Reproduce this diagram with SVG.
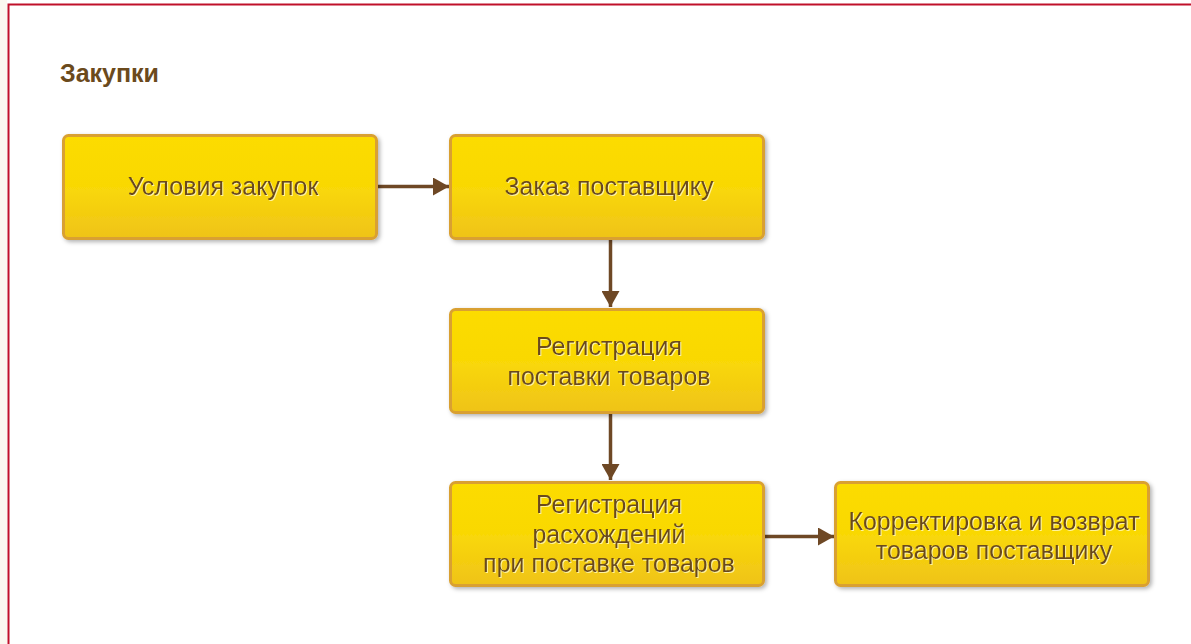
<svg xmlns="http://www.w3.org/2000/svg" width="1191" height="644" viewBox="0 0 1191 644">
<defs>
<linearGradient id="g" x1="0" y1="0" x2="0" y2="1">
<stop offset="0" stop-color="#fcdc00"/>
<stop offset="0.5" stop-color="#f9d806"/>
<stop offset="1" stop-color="#efc31a"/>
</linearGradient>
<filter id="sh" x="-10%" y="-10%" width="125%" height="130%">
<feDropShadow dx="2" dy="2" stdDeviation="2" flood-color="#000" flood-opacity="0.3"/>
</filter>
<filter id="ts" x="-5%" y="-20%" width="110%" height="140%">
<feDropShadow dx="1" dy="1" stdDeviation="0.3" flood-color="#fff6b0" flood-opacity="0.9"/>
</filter>
<marker id="ah" markerWidth="16" markerHeight="18" viewBox="0 0 16 18" refX="16" refY="9" orient="auto" markerUnits="userSpaceOnUse">
<path d="M0,0 L16,9 L0,18 Z" fill="#6e4825"/>
</marker>
</defs>
<style>
.box{fill:url(#g);stroke:#d9a030;stroke-width:3;filter:url(#sh)}
.t{font-family:"Liberation Sans",Arial,sans-serif;font-size:25px;fill:#6b4a1c;text-anchor:middle;filter:url(#ts)}
.c{stroke:#6e4825;stroke-width:3.5;fill:none;marker-end:url(#ah)}
</style>
<rect x="0" y="0" width="1191" height="644" fill="#ffffff"/>
<rect x="0" y="0" width="7" height="644" fill="#fbf8f0"/>
<path d="M8.5,644 V4.5 H1191" fill="none" stroke="#c0102a" stroke-width="2"/>
<text x="60" y="82" font-family="Liberation Sans,Arial,sans-serif" font-size="25" font-weight="bold" fill="#6b4a1c">Закупки</text>
<g id="connectors">
<line class="c" x1="378" y1="186.5" x2="449" y2="186.5"/>
<line class="c" x1="610.5" y1="240" x2="610.5" y2="307"/>
<line class="c" x1="610.5" y1="413" x2="610.5" y2="480"/>
<line class="c" x1="765" y1="536.5" x2="834" y2="536.5"/>
</g>
<g id="n1">
<rect class="box" x="63.5" y="135.5" width="313" height="103" rx="5"/>
<text class="t" x="223" y="195">Условия закупок</text>
</g>
<g id="n2">
<rect class="box" x="450.5" y="135.5" width="313" height="103" rx="5"/>
<text class="t" x="609" y="195">Заказ поставщику</text>
</g>
<g id="n3">
<rect class="box" x="450.5" y="309.5" width="313" height="103" rx="5"/>
<text class="t" x="609" y="355">Регистрация</text>
<text class="t" x="609" y="385">поставки товаров</text>
</g>
<g id="n4">
<rect class="box" x="450.5" y="482.5" width="313" height="103" rx="5"/>
<text class="t" x="609" y="513">Регистрация</text>
<text class="t" x="609" y="543">расхождений</text>
<text class="t" x="609" y="572">при поставке товаров</text>
</g>
<g id="n5">
<rect class="box" x="835.5" y="482.5" width="313" height="103" rx="5"/>
<text class="t" x="994" y="530">Корректировка и возврат</text>
<text class="t" x="994" y="559">товаров поставщику</text>
</g>
</svg>
